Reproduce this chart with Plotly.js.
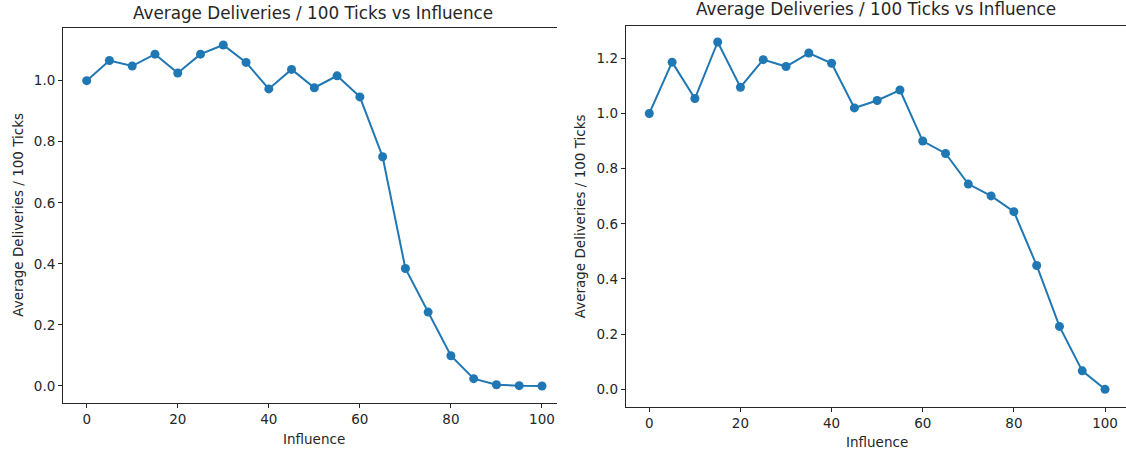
<!DOCTYPE html>
<html>
<head>
<meta charset="utf-8">
<script src="https://cdn.plot.ly/plotly-3.0.1.min.js"></script>
<style>html,body{margin:0;padding:0;background:#fff;}#chart{width:1126px;height:455px;}</style>
</head>
<body>
<div id="chart"></div>
<script>
// Data
const influence = [0, 5, 10, 15, 20, 25, 30, 35, 40, 45, 50, 55, 60, 65, 70, 75, 80, 85, 90, 95, 100];
const deliveriesLeft = [1.000, 1.066, 1.048, 1.087, 1.025, 1.087, 1.117, 1.060, 0.973, 1.037, 0.977, 1.016, 0.947, 0.751, 0.385, 0.242, 0.099, 0.024, 0.004, 0.001, 0.000];
const deliveriesRight = [1.000, 1.186, 1.054, 1.259, 1.095, 1.195, 1.170, 1.219, 1.182, 1.020, 1.047, 1.085, 0.900, 0.855, 0.744, 0.701, 0.644, 0.449, 0.228, 0.067, 0.000];
const xTicks = [0, 20, 40, 60, 80, 100];
const yTicksLeft = [0.0, 0.2, 0.4, 0.6, 0.8, 1.0];
const yTicksRight = [0.0, 0.2, 0.4, 0.6, 0.8, 1.0, 1.2];
const chartTitle = "Average Deliveries / 100 Ticks vs Influence";
const xTitle = "Influence";
const yTitle = "Average Deliveries / 100 Ticks";

const W = 1126, H = 455;
const px = v => v / W;
const py = v => 1 - v / H;
const FONT = "DejaVu Sans, sans-serif";
const C0 = "#1f77b4";
const INK = "#262626";

function trace(y, xa, ya) {
  return {
    x: influence, y: y, xaxis: xa, yaxis: ya,
    type: "scatter", mode: "lines+markers",
    line: {color: C0, width: 2},
    marker: {color: C0, size: 9},
    hoverinfo: "x+y", showlegend: false
  };
}

const axBase = {
  showgrid: false, zeroline: false, showline: true, linecolor: INK, linewidth: 1,
  ticks: "outside", ticklen: 4, tickwidth: 1, tickcolor: INK,
  tickfont: {family: FONT, size: 13.5, color: INK}, fixedrange: true
};

const layout = {
  width: W, height: H,
  margin: {l: 0, r: 0, t: 0, b: 0},
  paper_bgcolor: "#fff", plot_bgcolor: "#fff",
  font: {family: FONT, color: INK},
  xaxis: Object.assign({}, axBase, {
    domain: [px(63), px(557)], range: [-5.2, 103.3], anchor: "y",
    mirror: true, tickmode: "array", tickvals: xTicks, ticktext: xTicks.map(String)
  }),
  yaxis: Object.assign({}, axBase, {
    domain: [py(403), py(28)], range: [-0.0557, 1.1726], anchor: "x",
    tickmode: "array", tickvals: yTicksLeft, ticktext: yTicksLeft.map(v => v.toFixed(1))
  }),
  xaxis2: Object.assign({}, axBase, {
    domain: [px(625.7), 1], range: [-5.18, 104.6], anchor: "y2",
    mirror: true, tickmode: "array", tickvals: xTicks, ticktext: xTicks.map(String)
  }),
  yaxis2: Object.assign({}, axBase, {
    domain: [py(406.7), py(26)], range: [-0.063, 1.317], anchor: "x2",
    tickmode: "array", tickvals: yTicksRight, ticktext: yTicksRight.map(v => v.toFixed(1))
  }),
  annotations: [
    {text: chartTitle, xref: "paper", yref: "paper", x: px(313), y: py(12.6), xanchor: "center", yanchor: "middle", showarrow: false, font: {family: FONT, size: 16.8, color: INK}},
    {text: chartTitle, xref: "paper", yref: "paper", x: px(876), y: py(9.4), xanchor: "center", yanchor: "middle", showarrow: false, font: {family: FONT, size: 16.8, color: INK}},
    {text: xTitle, xref: "paper", yref: "paper", x: px(314), y: py(438.5), xanchor: "center", yanchor: "middle", showarrow: false, font: {family: FONT, size: 13.5, color: INK}},
    {text: xTitle, xref: "paper", yref: "paper", x: px(877), y: py(442), xanchor: "center", yanchor: "middle", showarrow: false, font: {family: FONT, size: 13.5, color: INK}},
    {text: yTitle, xref: "paper", yref: "paper", x: px(17.8), y: py(215), xanchor: "center", yanchor: "middle", textangle: -90, showarrow: false, font: {family: FONT, size: 13.5, color: INK}},
    {text: yTitle, xref: "paper", yref: "paper", x: px(580.3), y: py(216), xanchor: "center", yanchor: "middle", textangle: -90, showarrow: false, font: {family: FONT, size: 13.5, color: INK}}
  ]
};

Plotly.newPlot("chart", [trace(deliveriesLeft, "x", "y"), trace(deliveriesRight, "x2", "y2")], layout, {displayModeBar: false, staticPlot: true});
</script>
</body>
</html>
